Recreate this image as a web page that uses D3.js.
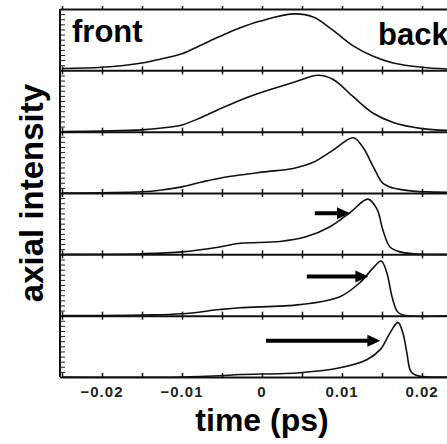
<!DOCTYPE html>
<html>
<head>
<meta charset="utf-8">
<script src="https://cdn.jsdelivr.net/npm/d3@7"></script>
<style>
  html, body { margin: 0; padding: 0; background: #fff; overflow: hidden; }
  svg { display: block; font-family: "Liberation Sans", Arial, sans-serif; }
</style>
</head>
<body>
<div id="chart"></div>
<script>
// time axis (ps) and ticks
const xTickLabels = [-0.02, -0.01, 0, 0.01, 0.02];
const xMinorTicks = [-0.025, -0.02, -0.015, -0.01, -0.005, 0, 0.005, 0.01, 0.015, 0.02];

// axial intensity per panel, top to bottom (normalised to panel height)
const t1 = [-0.025, -0.02, -0.015, -0.0125, -0.01, -0.0078, -0.0053, -0.0028, -0.0003, 0.0039, 0.0064, 0.0089, 0.0114, 0.0139, 0.0164, 0.02, 0.0235];
const v1 = [0.03, 0.05, 0.12, 0.19, 0.27, 0.4, 0.55, 0.69, 0.8, 0.92, 0.87, 0.65, 0.4, 0.23, 0.12, 0.05, 0.02];

const t2 = [-0.025, -0.02, -0.015, -0.0125, -0.01, -0.0078, -0.0053, -0.0028, -0.0003, 0.0039, 0.007, 0.0089, 0.0114, 0.0139, 0.0164, 0.02, 0.0235];
const v2 = [0.0, 0.01, 0.03, 0.06, 0.11, 0.22, 0.37, 0.51, 0.63, 0.8, 0.92, 0.85, 0.57, 0.3, 0.15, 0.05, 0.02];

const t3 = [-0.025, -0.015, -0.0125, -0.01, -0.0075, -0.005, 0, 0.0039, 0.0064, 0.0089, 0.0114, 0.0126, 0.0139, 0.0151, 0.0164, 0.0189, 0.0235];
const v3 = [0.0, 0.02, 0.05, 0.1, 0.18, 0.25, 0.34, 0.4, 0.5, 0.7, 0.9, 0.75, 0.43, 0.16, 0.08, 0.03, 0.01];

const t4 = [-0.025, -0.015, -0.01, -0.0053, -0.00275, 0.00225, 0.0056, 0.0085, 0.011, 0.01325, 0.0144, 0.0151, 0.016, 0.01725, 0.0189, 0.0235];
const v4 = [0, 0.01, 0.04, 0.12, 0.18, 0.21, 0.29, 0.45, 0.68, 0.9, 0.73, 0.4, 0.12, 0.04, 0.01, 0];

const t5 = [-0.025, -0.015, -0.01, -0.0053, -0.00275, 0.00475, 0.00975, 0.01225, 0.0139, 0.0149, 0.0156, 0.01625, 0.0169, 0.0176, 0.0235];
const v5 = [0, 0.01, 0.03, 0.1, 0.13, 0.18, 0.31, 0.54, 0.78, 0.89, 0.7, 0.31, 0.07, 0.01, 0];

const t6 = [-0.025, -0.01, -0.0053, -0.00275, 0.00475, 0.00975, 0.0131, 0.0148, 0.016, 0.017, 0.0176, 0.0181, 0.0185, 0.0189, 0.0198, 0.0235];
const v6 = [0, 0.0, 0.02, 0.04, 0.07, 0.15, 0.28, 0.45, 0.72, 0.89, 0.72, 0.4, 0.12, 0.05, 0.01, 0];

// arrows: panel index, start time, end time, level
const arrowPanel = [3, 4, 5];
const arrowFrom = [0.0066, 0.0056, 0.0005];
const arrowTo = [0.011, 0.0133, 0.0148];
const arrowLevel = [0.67, 0.64, 0.59];

const W = 447, H = 444;
const margin = { top: 9, left: 60, bottom: 67 };

const svg = d3.select('#chart').append('svg')
    .attr('width', W).attr('height', H);

const x = d3.scaleLinear().domain([-0.02525, 0.02500]).range([margin.left, margin.left + 402]);
const panels = [[t1, v1], [t2, v2], [t3, v3], [t4, v4], [t5, v5], [t6, v6]];
const band = d3.scaleBand().domain(d3.range(panels.length)).range([margin.top, H - margin.bottom]).padding(0);

const line = d3.line().curve(d3.curveCatmullRom.alpha(0.5));

panels.forEach((p, i) => {
    const y0 = band(i), y1 = y0 + band.bandwidth();
    const y = d3.scaleLinear().domain([0, 1]).range([y1, y0]);
    const g = svg.append('g').attr('class', 'panel-' + i);

    // left minor ticks
    g.append('g')
        .attr('transform', `translate(${margin.left},0)`)
        .call(d3.axisRight(y).tickValues(d3.range(0, 1, 1 / 12)).tickSize(5).tickFormat(''))
        .call(a => a.select('.domain').remove())
        .selectAll('line').attr('stroke', '#222').attr('stroke-width', 1);

    // baseline with crossing ticks
    const base = g.append('g').attr('transform', `translate(0,${y1})`);
    base.call(d3.axisBottom(x).tickValues(xMinorTicks).tickSize(4).tickSizeOuter(0).tickFormat(''))
        .select('.domain').attr('stroke', '#111').attr('stroke-width', 2);
    if (i < panels.length - 1) {
        base.append('g').call(d3.axisTop(x).tickValues(xMinorTicks).tickSize(4).tickFormat(''))
            .select('.domain').remove();
    } else {
        base.selectAll('.tick line').attr('y2', -4);
    }
    base.selectAll('.tick line').attr('stroke', '#111').attr('stroke-width', 1.5);

    // curve
    const pts = p[0].map((t, k) => [x(t), y(p[1][k])]);
    g.append('path')
        .attr('d', line(pts))
        .attr('fill', 'none')
        .attr('stroke', '#111')
        .attr('stroke-width', 1.6);
});

// top border with downward ticks
svg.append('g').attr('transform', `translate(0,${margin.top})`)
    .call(d3.axisBottom(x).tickValues(xMinorTicks).tickSize(-3).tickSizeOuter(0).tickFormat(''))
    .call(a => a.select('.domain').attr('stroke', '#111').attr('stroke-width', 2))
    .selectAll('.tick line').attr('stroke', '#111').attr('stroke-width', 1.5);

// left border
svg.append('line')
    .attr('x1', margin.left).attr('x2', margin.left)
    .attr('y1', margin.top).attr('y2', H - margin.bottom)
    .attr('stroke', '#111').attr('stroke-width', 2);

// x tick labels
svg.append('g').selectAll('text')
    .data(xTickLabels).enter().append('text')
    .attr('x', d => x(d))
    .attr('y', H - margin.bottom + 20)
    .attr('text-anchor', 'middle')
    .attr('font-size', 15)
    .attr('font-weight', 'bold')
    .attr('letter-spacing', 1)
    .attr('fill', '#222')
    .text(d => d === 0 ? '0' : (d < 0 ? '\u22120' + d3.format('.2f')(-d).slice(1) : d3.format('.2f')(d)));

// arrows
arrowPanel.forEach((pi, k) => {
    const y0 = band(pi), y1 = y0 + band.bandwidth();
    const y = d3.scaleLinear().domain([0, 1]).range([y1, y0]);
    const xs = x(arrowFrom[k]), xe = x(arrowTo[k]), ya = y(arrowLevel[k]);
    const headL = 13, headW = 6;
    svg.append('line')
        .attr('x1', xs).attr('x2', xe - headL + 1)
        .attr('y1', ya).attr('y2', ya)
        .attr('stroke', '#000').attr('stroke-width', 4);
    svg.append('path')
        .attr('d', `M${xe},${ya}L${xe - headL},${ya - headW}L${xe - headL},${ya + headW}Z`)
        .attr('fill', '#000');
});

// labels
svg.append('text').attr('x', 72).attr('y', 42)
    .attr('font-size', 31).attr('font-weight', 'bold').text('front');
svg.append('text').attr('x', 378).attr('y', 45)
    .attr('font-size', 31).attr('font-weight', 'bold').text('back');

svg.append('text')
    .attr('transform', `translate(43,${(margin.top + H - margin.bottom) / 2}) rotate(-90)`)
    .attr('text-anchor', 'middle')
    .attr('font-size', 33).attr('font-weight', 'bold')
    .text('axial intensity');

svg.append('text')
    .attr('x', x(0.00))
    .attr('y', 431)
    .attr('text-anchor', 'middle')
    .attr('font-size', 32).attr('font-weight', 'bold')
    .text('time (ps)');
</script>
</body>
</html>
